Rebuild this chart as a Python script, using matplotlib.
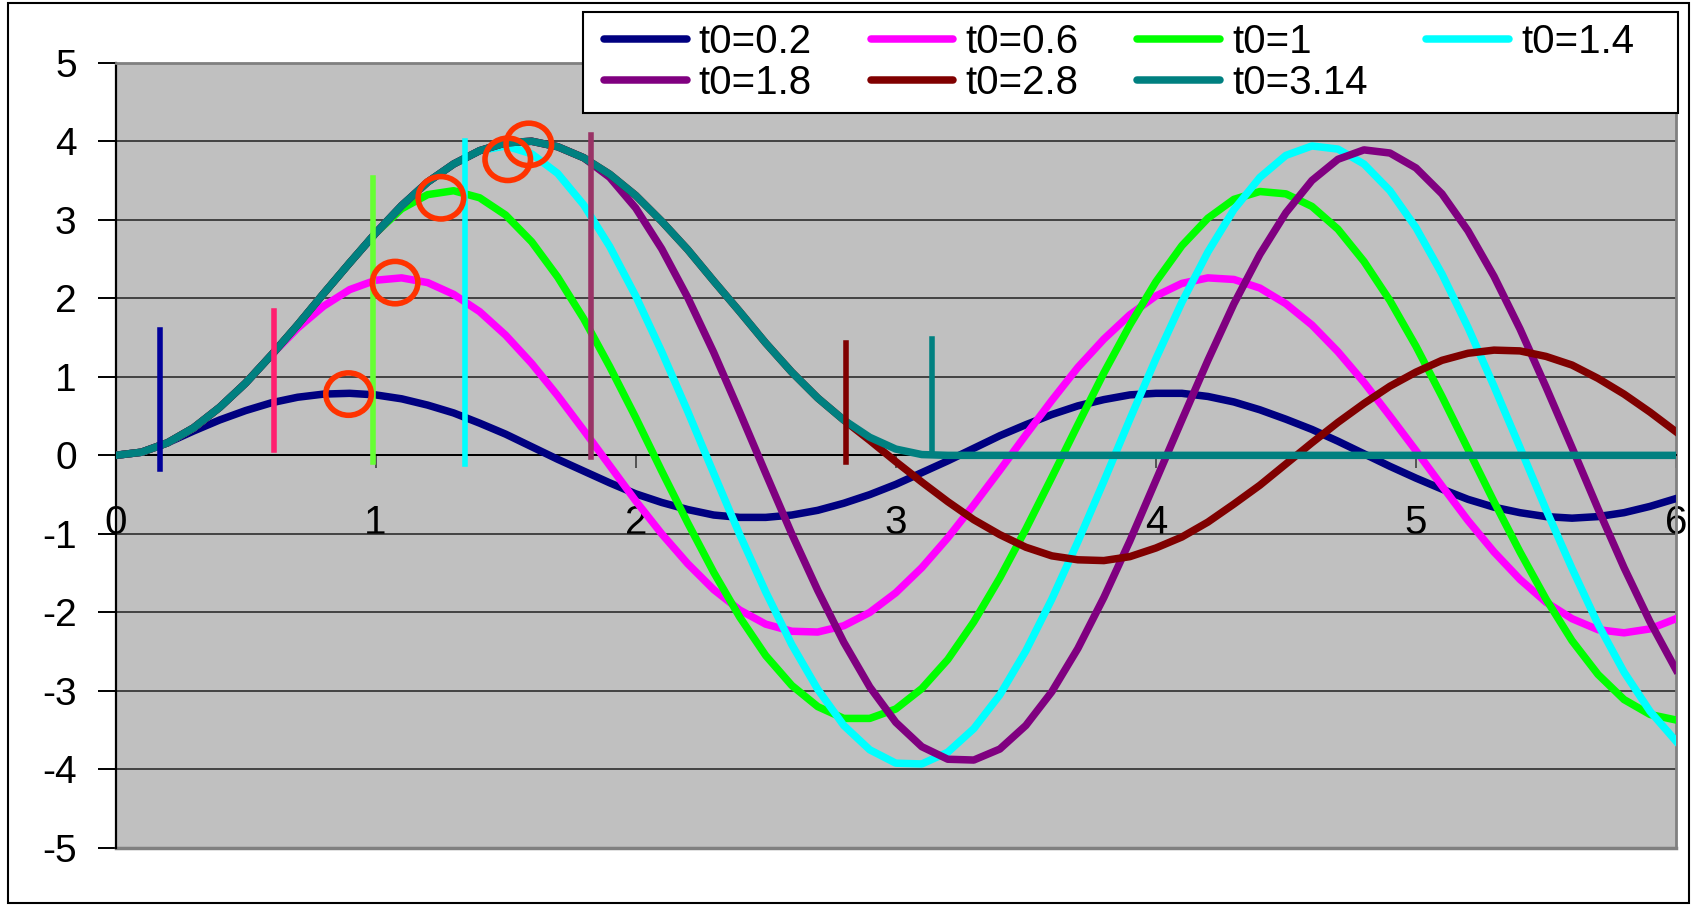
import matplotlib
matplotlib.use('Agg')
import matplotlib.pyplot as plt
from matplotlib.patches import Ellipse, Rectangle

plt.rcParams['font.family'] = ['Liberation Sans', 'DejaVu Sans']
plt.rcParams['axes.unicode_minus'] = False

# time axis (step 0.1)
t = [0.0, 0.1, 0.2, 0.3, 0.4, 0.5, 0.6, 0.7, 0.8, 0.9,
     1.0, 1.1, 1.2, 1.3, 1.4, 1.5, 1.6, 1.7, 1.8, 1.9,
     2.0, 2.1, 2.2, 2.3, 2.4, 2.5, 2.6, 2.7, 2.8, 2.9,
     3.0, 3.1, 3.2, 3.3, 3.4, 3.5, 3.6, 3.7, 3.8, 3.9,
     4.0, 4.1, 4.2, 4.3, 4.4, 4.5, 4.6, 4.7, 4.8, 4.9,
     5.0, 5.1, 5.2, 5.3, 5.4, 5.5, 5.6, 5.7, 5.8, 5.9, 6.0]

# common rising part, shared by every curve until its t0
rise = [0.0, 0.04, 0.16, 0.35, 0.61, 0.92, 1.28, 1.66, 2.06, 2.45,
        2.83, 3.18, 3.48, 3.71, 3.88, 3.98, 4.00, 3.93, 3.79, 3.58,
        3.31, 2.98, 2.62, 2.22, 1.83, 1.43, 1.06, 0.73, 0.45, 0.23,
        0.08, 0.01]

# free oscillation after t0
tail_02 = [0.31, 0.45, 0.57, 0.67, 0.74, 0.78, 0.79, 0.77, 0.72, 0.64,
           0.54, 0.41, 0.27, 0.11, -0.05, -0.20, -0.35, -0.49, -0.60, -0.69,
           -0.76, -0.79, -0.79, -0.76, -0.70, -0.61, -0.50, -0.37, -0.22, -0.07,
           0.09, 0.25, 0.39, 0.52, 0.63, 0.71, 0.77, 0.79, 0.79, 0.75,
           0.68, 0.58, 0.46, 0.33, 0.18, 0.02, -0.14, -0.29, -0.43, -0.56,
           -0.66, -0.73, -0.78, -0.80, -0.78, -0.73, -0.65, -0.55]
tail_06 = [1.62, 1.90, 2.11, 2.23, 2.26, 2.20, 2.05, 1.83, 1.53, 1.17,
           0.76, 0.32, -0.13, -0.58, -1.00, -1.38, -1.71, -1.97, -2.15, -2.24,
           -2.25, -2.17, -2.00, -1.75, -1.43, -1.05, -0.63, -0.19, 0.26, 0.70,
           1.12, 1.48, 1.79, 2.03, 2.19, 2.26, 2.24, 2.13, 1.93, 1.66,
           1.32, 0.93, 0.50, 0.06, -0.39, -0.83, -1.23, -1.58, -1.87, -2.08,
           -2.22, -2.26, -2.21, -2.08]
tail_10 = [3.14, 3.32, 3.37, 3.28, 3.06, 2.72, 2.27, 1.74, 1.13, 0.48,
           -0.20, -0.86, -1.49, -2.06, -2.55, -2.93, -3.20, -3.35, -3.35, -3.23,
           -2.97, -2.60, -2.12, -1.56, -0.94, -0.28, 0.39, 1.05, 1.66, 2.21,
           2.67, 3.02, 3.26, 3.36, 3.33, 3.17, 2.88, 2.47, 1.97, 1.39,
           0.75, 0.08, -0.59, -1.23, -1.83, -2.36, -2.79, -3.11, -3.30, -3.37]
tail_14 = [3.94, 3.84, 3.59, 3.19, 2.66, 2.03, 1.32, 0.56, -0.23, -1.01,
           -1.74, -2.41, -2.98, -3.44, -3.75, -3.92, -3.93, -3.78, -3.48, -3.05,
           -2.49, -1.83, -1.10, -0.33, 0.46, 1.23, 1.95, 2.59, 3.13, 3.54,
           3.82, 3.94, 3.90, 3.71, 3.37, 2.90, 2.31, 1.63, 0.88, 0.10,
           -0.69, -1.44, -2.15, -2.76, -3.26, -3.64]
tail_18 = [3.54, 3.15, 2.63, 2.01, 1.31, 0.55, -0.23, -1.00, -1.72, -2.38,
           -2.95, -3.40, -3.71, -3.87, -3.88, -3.74, -3.44, -3.01, -2.46, -1.81,
           -1.09, -0.32, 0.45, 1.21, 1.93, 2.56, 3.09, 3.50, 3.77, 3.89,
           3.85, 3.66, 3.33, 2.86, 2.28, 1.61, 0.87, 0.10, -0.68, -1.43,
           -2.12, -2.73]
tail_28 = [0.19, -0.08, -0.34, -0.59, -0.82, -1.01, -1.17, -1.28, -1.33, -1.34,
           -1.29, -1.18, -1.04, -0.85, -0.62, -0.38, -0.11, 0.16, 0.42, 0.66,
           0.88, 1.06, 1.21, 1.30, 1.34, 1.33, 1.26, 1.15, 0.98, 0.78,
           0.55, 0.30]
tail_314 = [0.0, 0.0, 0.0, 0.0, 0.0, 0.0, 0.0, 0.0, 0.0, 0.0,
            0.0, 0.0, 0.0, 0.0, 0.0, 0.0, 0.0, 0.0, 0.0, 0.0,
            0.0, 0.0, 0.0, 0.0, 0.0, 0.0, 0.0, 0.0, 0.0]

labels = ['t0=0.2', 't0=0.6', 't0=1', 't0=1.4', 't0=1.8', 't0=2.8', 't0=3.14']
series = [rise[:3] + tail_02, rise[:7] + tail_06, rise[:11] + tail_10,
          rise[:15] + tail_14, rise[:19] + tail_18, rise[:29] + tail_28,
          rise + tail_314]
colors = ['#000080', '#FF00FF', '#00FF00', '#00FFFF', '#800080', '#800000', '#008080']

# vertical markers at t0
mark_x = [0.17, 0.61, 0.99, 1.345, 1.827, 2.81, 3.14]
mark_lo = [-0.17, 0.07, -0.08, -0.11, -0.02, -0.08, 0.0]
mark_hi = [1.59, 1.84, 3.53, 4.0, 4.08, 1.43, 1.48]
mark_colors = ['#000099', '#FF1F6F', '#66FF33', '#00FFFF', '#993366', '#800000', '#008080']

# circled maxima
circ_x = [0.896, 1.075, 1.251, 1.508, 1.589]
circ_y = [0.78, 2.20, 3.28, 3.77, 3.96]

W, H = 1694, 905
fig = plt.figure(figsize=(W / 100, H / 100), dpi=100)
ax = fig.add_axes([0.0682, 0.063, 0.9212, 0.8677])
ax.set_facecolor('#C0C0C0')

lines = []
for y, lab, c in zip(series, labels, colors):
    ln, = ax.plot(t, y, color=c, lw=5.4, label=lab, solid_joinstyle='round', zorder=3)
    lines.append(ln)

for x, lo, hi, c in zip(mark_x, mark_lo, mark_hi, mark_colors):
    ax.plot([x, x], [lo, hi], color=c, lw=4.0, zorder=4)

for x, y in zip(circ_x, circ_y):
    ax.add_patch(Ellipse((x, y), 0.175, 0.54, fill=False, edgecolor='#FF3300', lw=4.0, zorder=5))

ax.set_xlim(0, 6)
ax.set_ylim(-5, 5)
ax.set_xticks(range(0, 7))
ax.set_yticks(range(-5, 6))
ax.yaxis.grid(True, color='#202020', lw=1.1, zorder=1)
ax.set_axisbelow(True)

ax.spines['bottom'].set_position(('data', 0))
ax.spines['bottom'].set_color('black')
ax.spines['bottom'].set_linewidth(1.4)
ax.spines['left'].set_color('black')
ax.spines['left'].set_linewidth(1.6)
for s in ['top', 'right']:
    ax.spines[s].set_color('#808080')
    ax.spines[s].set_linewidth(2)
ax.axhline(-5, color='#808080', lw=2.5, clip_on=False, zorder=2)

ax.tick_params(axis='x', direction='out', length=9, width=1.2, pad=26, labelsize=29, color='#404040')
ax.tick_params(axis='y', direction='out', length=13, width=1.4, pad=15, labelsize=28)

# legend box (row-wise order like the original)
fig.add_artist(Rectangle((583 / W, 1 - 113 / H), 1095 / W, 101 / H,
                         transform=fig.transFigure, facecolor='white',
                         edgecolor='black', lw=1.5, zorder=4))
order = [0, 4, 1, 5, 2, 6, 3]
leg = fig.legend([lines[i] for i in order], [labels[i] for i in order],
                 loc='center', bbox_to_anchor=(604 / W, 1 - 113 / H, 1030 / W, 101 / H),
                 mode='expand', ncol=4, fontsize=29, frameon=False,
                 handlelength=2.05, handletextpad=0.3, borderpad=0, borderaxespad=0,
                 labelspacing=0.08, columnspacing=1.0)
leg.set_zorder(5)
for h in leg.get_lines():
    h.set_linewidth(5.4)
    h.set_solid_capstyle('round')

fig.add_artist(Rectangle((8 / W, 2 / H), 1681 / W, 900 / H,
                         transform=fig.transFigure, fill=False,
                         edgecolor='black', lw=1.5, zorder=6))

fig.savefig('out.png', dpi=100)
